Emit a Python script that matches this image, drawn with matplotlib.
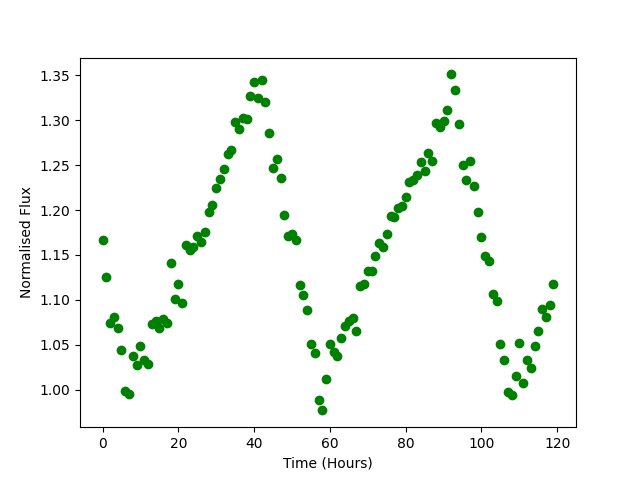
import numpy as np
import matplotlib
matplotlib.use('Agg')
import matplotlib.pyplot as plt

# hourly flux readings
hours = np.arange(0, 120)
flux = [1.167, 1.125, 1.074, 1.081, 1.069, 1.044, 0.999, 0.995, 1.038, 1.027,
        1.049, 1.033, 1.029, 1.073, 1.077, 1.069, 1.079, 1.074, 1.141, 1.101,
        1.118, 1.096, 1.161, 1.156, 1.159, 1.171, 1.164, 1.176, 1.198, 1.206,
        1.225, 1.235, 1.246, 1.262, 1.267, 1.298, 1.290, 1.303, 1.301, 1.327,
        1.343, 1.325, 1.345, 1.320, 1.286, 1.247, 1.257, 1.236, 1.195, 1.171,
        1.173, 1.167, 1.117, 1.106, 1.089, 1.051, 1.041, 0.989, 0.977, 1.012,
        1.051, 1.042, 1.037, 1.058, 1.071, 1.077, 1.080, 1.065, 1.116, 1.118,
        1.132, 1.132, 1.149, 1.163, 1.159, 1.173, 1.193, 1.192, 1.202, 1.204,
        1.215, 1.231, 1.234, 1.239, 1.253, 1.244, 1.264, 1.255, 1.297, 1.293,
        1.299, 1.311, 1.351, 1.334, 1.296, 1.250, 1.233, 1.255, 1.227, 1.198,
        1.170, 1.149, 1.143, 1.107, 1.099, 1.051, 1.033, 0.998, 0.994, 1.015,
        1.052, 1.007, 1.033, 1.024, 1.049, 1.065, 1.090, 1.081, 1.094, 1.118]

plt.figure(figsize=(6.4, 4.8), dpi=100)
plt.plot(hours, flux, 'o', color='green')
plt.xlabel('Time (Hours)')
plt.ylabel('Normalised Flux')
plt.savefig('out.png')
